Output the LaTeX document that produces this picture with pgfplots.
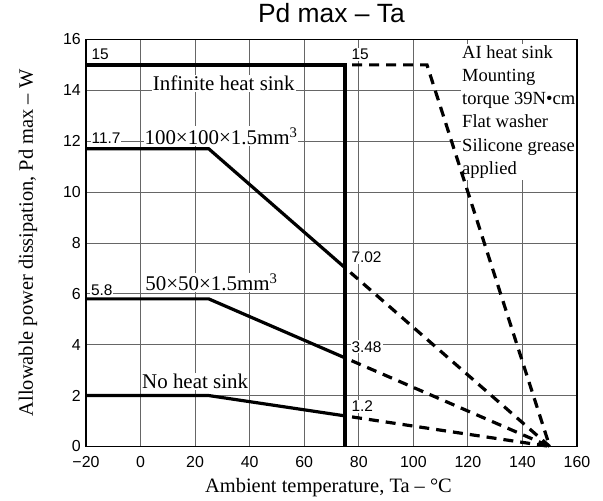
\documentclass[border=0pt]{standalone}
\usepackage{fontspec}
\setmainfont{Liberation Sans}
\newfontfamily\serif{Liberation Serif}
\usepackage{pgfplots}
\pgfplotsset{compat=1.18}

\tikzset{
  solidcurve/.style={line width=3.2bp},
  dashcurve/.style={line width=3.2bp, dash pattern=on 10bp off 7bp, dash phase=10bp},
  numlabel/.style={fill=white, inner sep=1pt, font=\fontsize{15.5}{15.5}\selectfont},
  txtlabel/.style={fill=white, inner sep=1pt, font=\serif\fontsize{21}{21}\selectfont},
}

\begin{document}
\begin{tikzpicture}
\begin{axis}[
  name=ax,
  scale only axis,
  width=491bp, height=407bp,
  xmin=-20, xmax=160, ymin=0, ymax=16,
  xtick={-20,0,20,40,60,80,100,120,140,160},
  xticklabels={−20,0,20,40,60,80,100,120,140,160},
  ytick={0,2,...,16},
  grid=major,
  major grid style={black!60, line width=0.8bp},
  axis line style={line width=1.6bp},
  tick style={draw=none},
  /pgf/number format/assume math mode=true,
  ticklabel style={font=\fontsize{16}{16}\selectfont},
  xticklabel style={anchor=base, yshift=-21bp},
  yticklabel style={anchor=east, inner sep=0pt, xshift=-5bp},
  title={Pd max – Ta},
  title style={font=\fontsize{26.5}{26.5}\selectfont, at={(axis description cs:0.5,1)}, anchor=base, yshift=11bp},
  xlabel={Ambient temperature, Ta – °C},
  ylabel={Allowable power dissipation, Pd max – W},
  every axis x label/.style={at={(axis description cs:0.5,0)}, anchor=base, yshift=-46bp, xshift=-3bp,
    font=\serif\fontsize{20.5}{20.5}\selectfont},
  every axis y label/.style={at={(axis description cs:-0.108,0.5)}, anchor=base, rotate=90,
    font=\serif\fontsize{20.5}{20.5}\selectfont},
  clip=false,
]
% white-backed labels first, so that the curves lie above them
\node[txtlabel] at (axis cs:30.5,14.27) {Infinite heat sink};
\node[txtlabel] at (axis cs:29.5,12.2) {100×100×1.5mm\textsuperscript{3}};
\node[txtlabel] at (axis cs:26,6.45) {50×50×1.5mm\textsuperscript{3}};
\node[txtlabel] at (axis cs:20,2.55) {No heat sink};
\node[fill=white, inner sep=1.5pt, anchor=north west, align=left,
      font=\serif\fontsize{18.6}{23.2}\selectfont] at (axis cs:117.3,15.82)
  {AI heat sink\\Mounting\\torque 39N•cm\\Flat washer\\Silicone grease\\applied};
\node[numlabel, anchor=base west] at (axis cs:-18.4,15.2) {15};
\node[numlabel, anchor=base] at (axis cs:80.5,15.2) {15};
\node[numlabel, anchor=base west] at (axis cs:-18.4,11.9) {11.7};
\node[numlabel, anchor=base west] at (axis cs:-18.6,5.95) {5.8};
\node[numlabel, anchor=west] at (axis cs:76.9,7.43) {7.02};
\node[numlabel, anchor=west] at (axis cs:76.9,3.92) {3.48};
\node[numlabel, anchor=west] at (axis cs:76.9,1.57) {1.2};

% infinite heat sink
\addplot[solidcurve, line width=3.6bp] coordinates {(-20,15) (75,15) (75,0)};
\addplot[dashcurve] coordinates {(75,15) (105,15) (150,0)};
% 100x100x1.5 mm3
\addplot[solidcurve] coordinates {(-20,11.7) (25,11.7) (75,7.02)};
\addplot[dashcurve] coordinates {(75,7.02) (150,0)};
% 50x50x1.5 mm3
\addplot[solidcurve] coordinates {(-20,5.8) (25,5.8) (75,3.48)};
\addplot[dashcurve] coordinates {(75,3.48) (150,0)};
% no heat sink
\addplot[solidcurve] coordinates {(-20,2) (25,2) (75,1.2)};
\addplot[dashcurve] coordinates {(75,1.2) (150,0)};

% frame again, above the white boxes
\draw[line width=1.6bp] (rel axis cs:0,0) rectangle (rel axis cs:1,1);
\end{axis}
% page of the reference's size round the axis
\path (ax.south west) ++(-86bp,-51bp) rectangle ++(603bp,497bp);
\end{tikzpicture}
\end{document}
